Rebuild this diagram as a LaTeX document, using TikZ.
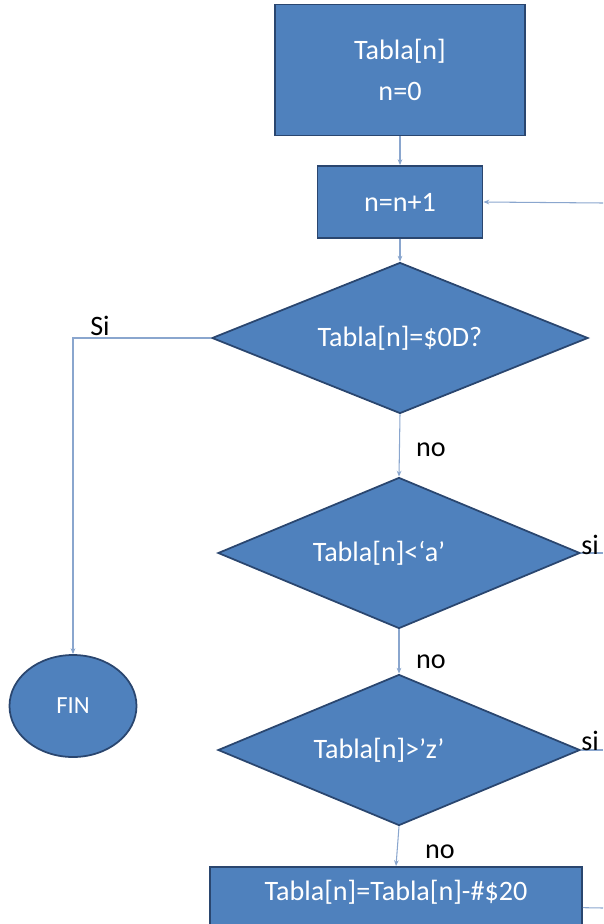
\documentclass[tikz,border=0pt]{standalone}
\usepackage{fontspec}
\setmainfont{Carlito}
\usetikzlibrary{shapes.geometric,arrows.meta}

\definecolor{relleno}{HTML}{4F81BD}
\definecolor{borde}{HTML}{2A466F}
\definecolor{linea}{HTML}{8AA6CE}

\begin{document}
\begin{tikzpicture}[x=0.03cm,y=-0.03cm,
  caja/.style={draw=borde,fill=relleno,line width=1.5pt,text=white,
    font=\fontsize{24}{30}\selectfont,align=center,inner sep=0pt},
  rombo/.style={diamond,draw=borde,fill=relleno,line width=1.5pt,text=white,
    font=\fontsize{24}{30}\selectfont,inner sep=0pt,aspect=2.4},
  flecha/.style={draw=linea,line width=0.9pt,-{Stealth[length=5pt,width=4pt]}},
  linea/.style={draw=linea,line width=0.9pt},
  etiq/.style={font=\fontsize{24}{30}\selectfont,text=black,inner sep=0pt}]

\useasboundingbox (0,0) rectangle (603,924);

\node[caja,minimum width=7.5cm,minimum height=3.93cm] (inicio) at (400,70) {Tabla[n]\\[5pt]n=0};
\node[caja,minimum width=4.95cm,minimum height=2.16cm] (incr) at (400,202) {n=n+1};
\node[rombo,minimum width=11.28cm,minimum height=4.53cm] (fincad) at (400,338) {Tabla[n]=\$0D?};
\node[rombo,minimum width=10.86cm,minimum height=4.53cm] (menor) at (399,553) {Tabla[n]<‘a’\rule{1.2cm}{0pt}};
\node[rombo,minimum width=10.86cm,minimum height=4.53cm] (mayor) at (399,750) {Tabla[n]>’z’\rule{1.2cm}{0pt}};
\node[caja,anchor=north,minimum width=11.16cm,text height=1.0cm,text depth=1.6cm] (resta) at (396,866) {Tabla[n]=Tabla[n]-\#\$20};
\node[ellipse,draw=borde,fill=relleno,line width=1.5pt,text=white,
  font=\fontsize{21}{26}\selectfont,minimum width=3.81cm,minimum height=3.06cm] (fin) at (73,706) {FIN};

\coordinate (vuelta) at (603,203);
\coordinate (esq) at (73,338);
\coordinate (simenor) at (603,553);
\coordinate (simayor) at (603,750);
\coordinate (sigue) at (603,908);

\draw[flecha] (inicio.south)--(incr.north);
\draw[flecha] (vuelta)--(incr.east);
\draw[flecha] (incr.south)--(fincad.north);
\draw[flecha] (fincad.west)--(esq)--(fin.north);
\draw[flecha] (fincad.south)--(menor.north);
\draw[flecha] (menor.south)--(mayor.north);
\draw[flecha] (mayor.south)--(resta.north);
\draw[linea] (menor.east)--(simenor);
\draw[linea] (mayor.east)--(simayor);
\draw[linea] ([yshift=-1.25cm]resta.north east)--(sigue);

\node[etiq] (lsi) at (100,326) {Si};
\node[etiq] (lno1) at (431,450) {no};
\node[etiq] (lsi1) at (590,545) {si};
\node[etiq] (lno2) at (431,662) {no};
\node[etiq] (lsi2) at (590,741) {si};
\node[etiq] (lno3) at (440,852) {no};

\end{tikzpicture}
\end{document}
